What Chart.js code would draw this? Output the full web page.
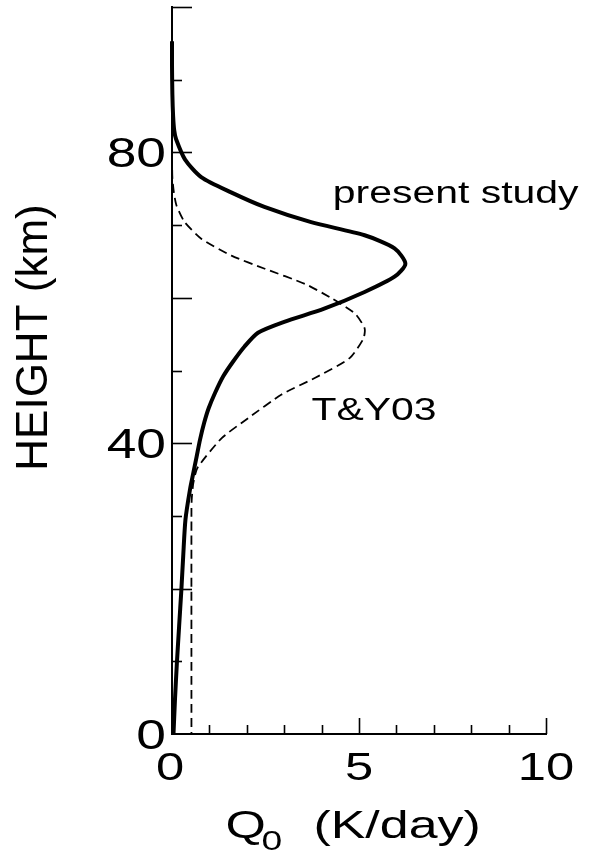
<!DOCTYPE html>
<html>
<head>
<meta charset="utf-8">
<script src="https://cdn.jsdelivr.net/npm/chart.js@4.4.1/dist/chart.umd.min.js"></script>
<style>
  html, body { margin: 0; padding: 0; background: #ffffff; }
  #wrap { width: 593px; height: 854px; }
</style>
</head>
<body>
<div id="wrap"><canvas id="c" width="593" height="854"></canvas></div>
<script>
// ---- data ----
const presentHeights = [95.3, 92, 88, 85, 83, 81.8, 79, 76.6, 74.5, 72.5, 70.4, 68.6, 66.8, 64.7, 62.9, 60.8, 58.5, 56.7, 55.2, 53.3, 51.2, 49.2, 46.9, 44.8, 42.8, 40.5, 38.2, 35.9, 33.6, 29.5, 24.5, 19.8, 14.8, 9.7, 4.8, 0];
const presentQ       = [0.0, 0.0, 0.01, 0.03, 0.06, 0.11, 0.35, 0.78, 1.58, 2.47, 3.72, 5.15, 5.95, 6.24, 5.95, 5.15, 4.07, 3.0, 2.30, 1.94, 1.63, 1.37, 1.15, 0.98, 0.86, 0.75, 0.66, 0.57, 0.48, 0.36, 0.30, 0.25, 0.19, 0.13, 0.08, 0.04];

const tyHeights = [79.5, 76.5, 74.5, 72.7, 70.4, 68.1, 65.8, 64.0, 61.9, 59.9, 57.8, 55.8, 54.4, 51.7, 49.0, 46.7, 43.5, 40.7, 36.6, 34.5, 32.5, 31, 0];
const tyQ       = [0.0, 0.01, 0.05, 0.12, 0.34, 0.79, 1.59, 2.48, 3.56, 4.28, 4.9, 5.15, 5.12, 4.75, 3.83, 2.93, 2.05, 1.33, 0.68, 0.57, 0.53, 0.52, 0.52];

const xTickLabels = [0, 5, 10];
const yTickLabels = [0, 40, 80];
const seriesNames = ['present study', 'T&Y03'];
const labelAnchors = [{x: 4.30, y: 73.1}, {x: 3.73, y: 43.2}];

const FONT = '"Liberation Sans", Arial, Helvetica, sans-serif';
const SX = 1.3;

function stretchedText(ctx, text, x, y, size, align, sx) {
  ctx.save();
  ctx.translate(x, y);
  ctx.scale(sx, 1);
  ctx.font = size + 'px ' + FONT;
  ctx.textAlign = align;
  ctx.textBaseline = 'alphabetic';
  ctx.fillStyle = '#000';
  ctx.fillText(text, 0, 0);
  ctx.restore();
}

const decorPlugin = {
  id: 'decor',
  afterDraw(chart) {
    const ctx = chart.ctx;
    const xs = chart.scales.x, ys = chart.scales.y;
    const left = xs.getPixelForValue(0), bottom = ys.getPixelForValue(0);
    ctx.save();
    ctx.strokeStyle = '#000';
    ctx.lineWidth = 1.6;
    // inward tick marks
    ys.ticks.forEach(t => {
      if (t.value === 0) return;
      const y = Math.round(ys.getPixelForValue(t.value)) + 0.5;
      const len = (t.value % 20 === 0) ? 20 : 10;
      ctx.beginPath(); ctx.moveTo(left, y); ctx.lineTo(left + len, y); ctx.stroke();
    });
    xs.ticks.forEach(t => {
      if (t.value === 0) return;
      const x = Math.round(xs.getPixelForValue(t.value)) + 0.5;
      const len = (t.value % 5 === 0) ? 16 : 9;
      ctx.beginPath(); ctx.moveTo(x, bottom); ctx.lineTo(x, bottom - len); ctx.stroke();
    });
    ctx.restore();

    // tick labels
    yTickLabels.forEach(v => {
      stretchedText(ctx, String(v), left - 6, ys.getPixelForValue(v) + 15, 42, 'right', 1.27);
    });
    xTickLabels.forEach(v => {
      const dx = v === 0 ? -2 : 0;
      stretchedText(ctx, String(v), xs.getPixelForValue(v) + dx, 780, 39, 'center', SX);
    });

    // series labels
    seriesNames.forEach((name, i) => {
      const a = labelAnchors[i];
      stretchedText(ctx, name, xs.getPixelForValue(a.x), ys.getPixelForValue(a.y), 31, 'left', 1.32);
    });

    // x-axis title: Q0 (K/day)
    stretchedText(ctx, 'Q', 225.5, 838, 39, 'left', 1.33);
    stretchedText(ctx, '0', 261.5, 850, 28, 'left', 1.33);
    stretchedText(ctx, '(K/day)', 313.5, 838, 39, 'left', 1.33);

    // y-axis title
    ctx.save();
    ctx.translate(47, 337.5);
    ctx.rotate(-Math.PI / 2);
    ctx.font = '44px ' + FONT;
    ctx.textAlign = 'center';
    ctx.textBaseline = 'alphabetic';
    ctx.fillStyle = '#000';
    ctx.fillText('HEIGHT (km)', 0, 0);
    ctx.restore();
  }
};

const toPts = (hs, qs) => hs.map((h, i) => ({x: qs[i], y: h}));

new Chart(document.getElementById('c'), {
  type: 'scatter',
  data: {
    datasets: [
      {
        label: seriesNames[0],
        data: toPts(presentHeights, presentQ),
        showLine: true,
        borderColor: '#000',
        borderWidth: 4,
        pointRadius: 0,
        tension: 0.25,
        clip: 10
      },
      {
        label: seriesNames[1],
        data: toPts(tyHeights, tyQ),
        showLine: true,
        borderColor: '#000',
        borderWidth: 1.8,
        borderDash: [9, 5],
        pointRadius: 0,
        tension: 0.2,
        clip: 10
      }
    ]
  },
  options: {
    responsive: false,
    animation: false,
    devicePixelRatio: 1,
    layout: { padding: { left: 0, right: 47, top: 7, bottom: 0 } },
    plugins: { legend: { display: false }, tooltip: { enabled: false } },
    scales: {
      x: {
        type: 'linear',
        min: 0, max: 10,
        ticks: { display: false, stepSize: 1 },
        grid: { display: false, drawTicks: false },
        border: { display: true, color: '#000', width: 2 },
        afterFit(scale) { scale.height = 120; }
      },
      y: {
        type: 'linear',
        min: 0, max: 100,
        ticks: { display: false, stepSize: 10 },
        grid: { display: false, drawTicks: false },
        border: { display: true, color: '#000', width: 2 },
        afterFit(scale) { scale.width = 172; }
      }
    }
  },
  plugins: [decorPlugin]
});
</script>
</body>
</html>
